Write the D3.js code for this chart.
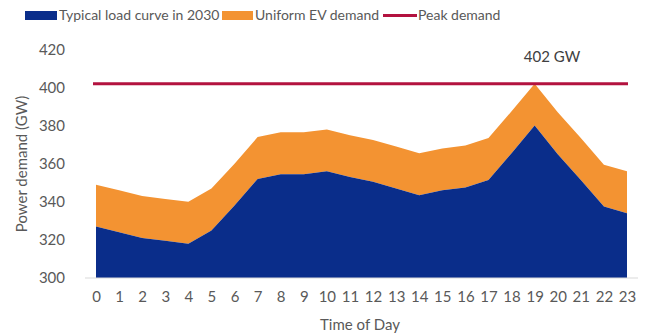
<!DOCTYPE html>
<html>
<head>
<meta charset="utf-8">
<script src="https://cdn.jsdelivr.net/npm/d3@7"></script>
<style>
  html, body { margin: 0; padding: 0; background: #ffffff; }
  svg { display: block; font-family: Lato, "Open Sans", sans-serif; }
</style>
</head>
<body>
<svg id="chart" width="646" height="335"></svg>
<script>
const hours = [0,1,2,3,4,5,6,7,8,9,10,11,12,13,14,15,16,17,18,19,20,21,22,23];
const typicalLoad = [327,324,321,319.5,318,325,338,352,354.5,354.5,356,353,350.5,347,343.5,346,347.5,351.5,365.5,380,365,351.5,337.5,334];
const evDemand = [22,22,22,22,22,22,22,22,22,22,22,22,22,22,22,22,22,22,22,22,22,22,22,22];
const peakDemand = 402;
const yTicks = [300,320,340,360,380,400,420];
const seriesNames = ["Typical load curve in 2030", "Uniform EV demand", "Peak demand"];
const colors = { load: "#0a2d8a", ev: "#f39332", peak: "#b3123f", text: "#595959", axis: "#d9d9d9" };

const svg = d3.select("#chart");
const x = d3.scaleLinear().domain([0, 23]).range([96, 627]);
const y = d3.scaleLinear().domain([300, 420]).range([278, 49.4]);

const rows = hours.map((h, i) => ({ h, load: typicalLoad[i], ev: evDemand[i] }));
const stacked = d3.stack().keys(["load", "ev"])(rows);

const areaLoad = d3.area().x(d => x(d.data.h)).y0(() => y(300)).y1(d => y(d[1]));
const areaEv = d3.area().x(d => x(d.data.h)).y0(d => y(d[0])).y1(d => y(d[1]));

svg.append("path").datum(stacked[1]).attr("d", areaEv).attr("fill", colors.ev);
svg.append("path").datum(stacked[0]).attr("d", areaLoad).attr("fill", colors.load);

// x baseline
svg.append("line").attr("x1", 85).attr("x2", 638).attr("y1", y(300)).attr("y2", y(300))
  .attr("stroke", colors.axis).attr("stroke-width", 1);

// peak line
svg.append("line").attr("x1", x(0) - 3).attr("x2", x(23) + 1).attr("y1", y(peakDemand)).attr("y2", y(peakDemand))
  .attr("stroke", colors.peak).attr("stroke-width", 3);
svg.append("text").attr("x", 552).attr("y", y(peakDemand) - 22).attr("text-anchor", "middle")
  .attr("fill", "#404040").attr("font-size", 15).text(peakDemand + " GW");

// y axis
const yAxis = d3.axisLeft(y).tickValues(yTicks).tickSize(0).tickPadding(0);
const gy = svg.append("g").attr("transform", "translate(65,0)").call(yAxis);
gy.select(".domain").remove();
gy.selectAll("text").attr("fill", colors.text).attr("font-size", 15).attr("font-family", "Lato, sans-serif");

// x axis
const xAxis = d3.axisBottom(x).tickValues(hours).tickSize(0).tickPadding(0).tickFormat(d3.format("d"));
const gx = svg.append("g").attr("transform", "translate(0,291)").call(xAxis);
gx.select(".domain").remove();
gx.selectAll("text").attr("fill", colors.text).attr("font-size", 15).attr("font-family", "Lato, sans-serif");

// axis titles
svg.append("text").attr("x", 360).attr("y", 330).attr("text-anchor", "middle")
  .attr("fill", colors.text).attr("font-size", 15).text("Time of Day");
svg.append("text").attr("transform", "translate(27,164) rotate(-90)").attr("text-anchor", "middle")
  .attr("fill", colors.text).attr("font-size", 15).text("Power demand (GW)");

// legend
const lg = svg.append("g");
lg.append("rect").attr("x", 25).attr("y", 11).attr("width", 32).attr("height", 9).attr("fill", colors.load);
lg.append("text").attr("x", 59).attr("y", 20).attr("fill", colors.text).attr("font-size", 14).text(seriesNames[0]);
lg.append("rect").attr("x", 222).attr("y", 11).attr("width", 31).attr("height", 9).attr("fill", colors.ev);
lg.append("text").attr("x", 255).attr("y", 20).attr("fill", colors.text).attr("font-size", 14).text(seriesNames[1]);
lg.append("line").attr("x1", 383).attr("x2", 417).attr("y1", 15.5).attr("y2", 15.5).attr("stroke", colors.peak).attr("stroke-width", 3);
lg.append("text").attr("x", 418).attr("y", 20).attr("fill", colors.text).attr("font-size", 14).text(seriesNames[2]);
</script>
</body>
</html>
